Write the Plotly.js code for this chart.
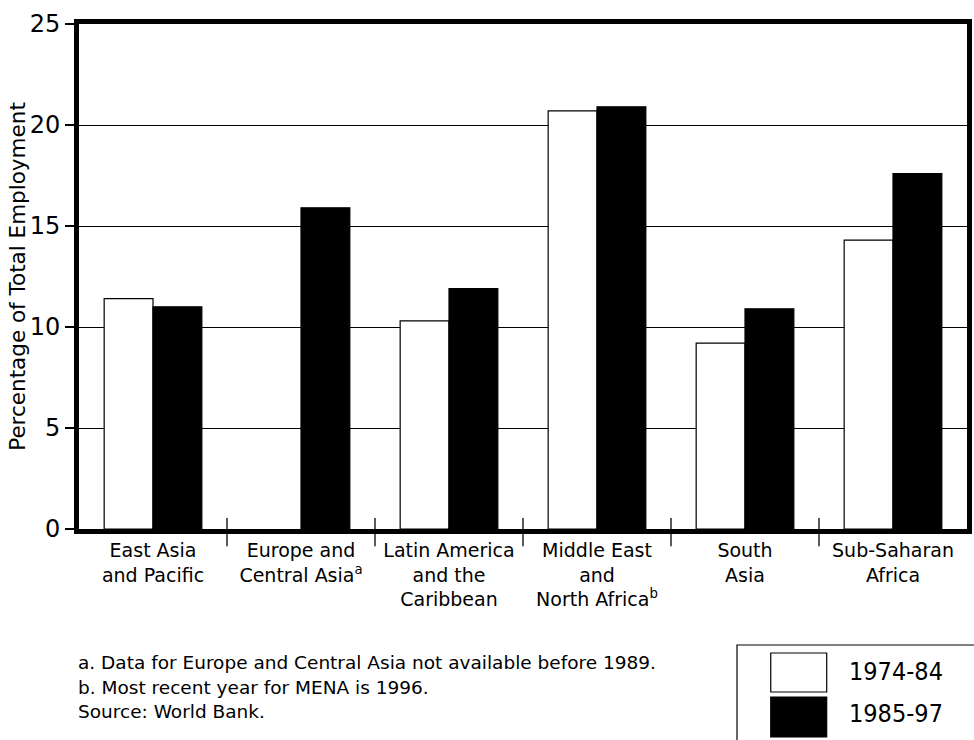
<!DOCTYPE html>
<html>
<head>
<meta charset="utf-8">
<script src="https://cdn.plot.ly/plotly-3.0.1.min.js"></script>
<style>html,body{margin:0;padding:0;background:#fff;}#chart{width:974px;height:740px;}</style>
</head>
<body>
<div id="chart"></div>
<script>
// ---- data ----
var categories = [
  "East Asia<br>and Pacific",
  "Europe and<br>Central Asia<sup>a</sup>",
  "Latin America<br>and the<br>Caribbean",
  "Middle East<br>and<br>North Africa<sup>b</sup>",
  "South<br>Asia",
  "Sub-Saharan<br>Africa"
];
var seriesNames = ["1974-84", "1985-97"];
var values1974_84 = [11.4, null, 10.3, 20.7, 9.2, 14.3];
var values1985_97 = [11.0, 15.9, 11.9, 20.9, 10.9, 17.6];
var yTickValues = [0, 5, 10, 15, 20, 25];
var footnotes = [
  "a. Data for Europe and Central Asia not available before 1989.",
  "b. Most recent year for MENA is 1996.",
  "Source: World Bank."
];

var FONT = "DejaVu Sans, Verdana, sans-serif";
var COND = "DejaVu Sans Condensed, Liberation Sans Narrow, Arial Narrow, sans-serif";

var traces = [
  {type: "bar", name: seriesNames[0], x: categories, y: values1974_84,
   marker: {color: "#ffffff", line: {color: "#000000", width: 1.2}}, showlegend: false, hoverinfo: "none"},
  {type: "bar", name: seriesNames[1], x: categories, y: values1985_97,
   marker: {color: "#000000", line: {color: "#000000", width: 1.2}}, showlegend: false, hoverinfo: "none"}
];

var shapes = [];
// category separators crossing the x axis
for (var i = 1; i < categories.length; i++) {
  shapes.push({type: "line", xref: "paper", yref: "paper",
    x0: i / categories.length, x1: i / categories.length, y0: -0.034, y1: 0.022,
    line: {color: "#000", width: 1.3}});
}
// legend box and swatches
var legColors = ["#ffffff", "#000000"];
var legY = [[-0.3228, -0.2455], [-0.4119, -0.3327]];
var legTextY = [-0.2812, -0.3644];
shapes.push({type: "rect", xref: "paper", yref: "paper", x0: 0.741, x1: 1.05, y0: -0.46, y1: -0.2297,
  line: {color: "#000", width: 1.2}, fillcolor: "rgba(0,0,0,0)"});
var annotations = [];
for (var k = 0; k < seriesNames.length; k++) {
  shapes.push({type: "rect", xref: "paper", yref: "paper", x0: 0.779, x1: 0.842,
    y0: legY[k][0], y1: legY[k][1], line: {color: "#000", width: 1.2}, fillcolor: legColors[k]});
  annotations.push({xref: "paper", yref: "paper", x: 0.865, y: legTextY[k], xanchor: "left", yanchor: "middle",
    text: seriesNames[k], showarrow: false, font: {family: COND, size: 25, color: "#000"}});
}
var footY = [-0.2653, -0.3129, -0.3604];
for (var f = 0; f < footnotes.length; f++) {
  annotations.push({xref: "paper", yref: "paper", x: -0.003, y: footY[f], xanchor: "left", yanchor: "middle",
    text: footnotes[f], showarrow: false, font: {family: FONT, size: 18.5, color: "#000"}});
}

var layout = {
  width: 974, height: 740,
  margin: {l: 79, r: 7, t: 24, b: 211, pad: 0},
  paper_bgcolor: "#fff", plot_bgcolor: "#fff",
  barmode: "group", bargap: 0.34, bargroupgap: 0,
  font: {family: FONT, color: "#000"},
  xaxis: {
    type: "category", showgrid: false, zeroline: false,
    showline: true, linewidth: 5, linecolor: "#000", mirror: true,
    ticks: "", tickfont: {family: FONT, size: 19, color: "#000"}
  },
  yaxis: {
    range: [0, 25], tickvals: yTickValues, showgrid: true, gridcolor: "#000", gridwidth: 1,
    zeroline: false, showline: true, linewidth: 5, linecolor: "#000", mirror: true,
    ticks: "outside", ticklen: 9, tickwidth: 1.5, tickcolor: "#000",
    tickfont: {family: FONT, size: 24, color: "#000"},
    title: {text: "Percentage of Total Employment", font: {family: FONT, size: 21.5, color: "#000"}, standoff: 0}
  },
  shapes: shapes,
  annotations: annotations
};

Plotly.newPlot("chart", traces, layout, {displayModeBar: false, staticPlot: true});
</script>
</body>
</html>
